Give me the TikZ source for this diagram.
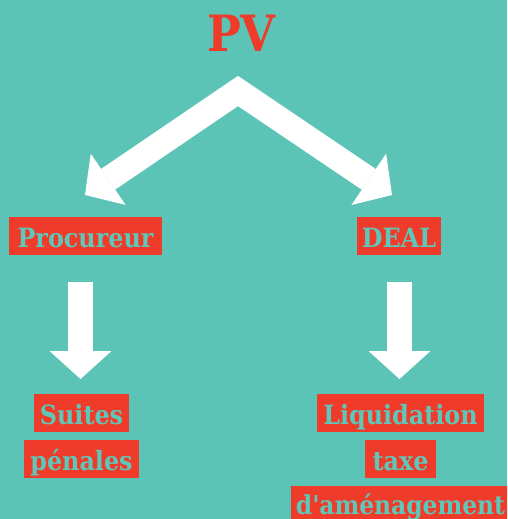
\documentclass[tikz,border=0pt]{standalone}
\usepackage{fontspec}
\usetikzlibrary{arrows.meta}
\newfontfamily\slab{DejaVu Serif Condensed Bold}[Ligatures=TeXOff]
\definecolor{bgteal}{HTML}{5BC4B6}
\definecolor{boxred}{HTML}{EE3B2A}
\definecolor{txteal}{HTML}{5FC7BA}
\tikzset{
  labelbox/.style={fill=boxred, text=txteal, inner xsep=0pt, inner ysep=0pt,
    minimum height=38pt, text height=30pt, text depth=8pt,
    font=\slab\fontsize{26.5}{26.5}\selectfont},
  bigarrow/.style={draw=white, line width=25pt, line cap=butt, line join=miter,
    -{Triangle[width=62pt,length=28pt,line width=0pt]}},
}
\begin{document}
\begin{tikzpicture}[x=1pt,y=-1pt]
\fill[bgteal] (0,0) rectangle (507,519);
\useasboundingbox (0,0) rectangle (507,519);
\clip (0,0) rectangle (507,519);
\node[anchor=base, text=boxred, inner sep=0pt, font=\slab\fontsize{50}{50}\selectfont] (pv) at (241.5,52) {PV};
\node[labelbox, minimum width=153pt] (proc) at (85.5,236) {Procureur};
\node[labelbox, minimum width=84pt] (deal) at (399,236) {DEAL};
\node[labelbox, minimum width=95pt] (suites) at (81.5,413) {Suites};
\node[labelbox, minimum width=115pt] (penales) at (81.5,459) {pénales};
\node[labelbox, minimum width=167pt] (liq) at (400.5,413) {Liquidation};
\node[labelbox, minimum width=71pt] (taxe) at (400.5,459) {taxe};
\node[labelbox, minimum width=219pt, text height=28pt, text depth=10pt, font=\slab\fontsize{26}{26}\selectfont] (amen) at (400.5,505) {d'aménagement};
\coordinate (apex) at (238,91);
\coordinate (ltip) at (85,195);
\coordinate (rtip) at (392,195);
\draw[bigarrow, {Triangle[width=62pt,length=28pt,line width=0pt]}-{Triangle[width=62pt,length=28pt,line width=0pt]}] (ltip) -- (apex) -- (rtip);
\coordinate (ls) at (80.5,282);
\coordinate (lt) at (80.5,379);
\coordinate (rs) at (399.5,282);
\coordinate (rt) at (399.5,379);
\draw[bigarrow] (ls) -- (lt);
\draw[bigarrow] (rs) -- (rt);
\end{tikzpicture}
\end{document}
